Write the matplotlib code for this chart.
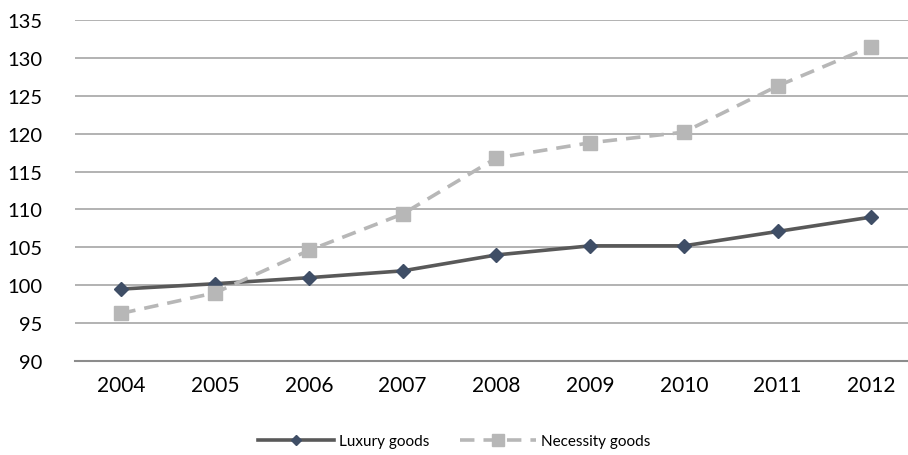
import numpy as np
import matplotlib.pyplot as plt

plt.rcParams['font.family'] = ['Lato', 'DejaVu Sans']

years = ['2004', '2005', '2006', '2007', '2008', '2009', '2010', '2011', '2012']
luxury = [99.5, 100.2, 101.0, 101.9, 104.0, 105.2, 105.2, 107.1, 109.0]
necessity = [96.3, 99.0, 104.6, 109.4, 116.8, 118.8, 120.2, 126.3, 131.5]

fig = plt.figure(figsize=(9.08, 4.56), dpi=100)
ax = fig.add_axes([0.083, 0.206, 0.917, 0.748])

x = np.arange(len(years))
ax.plot(x, luxury, color='#595959', lw=2.6, marker='D', ms=7,
        mfc='#3F4E66', mec='#3F4E66', label='Luxury goods', zorder=3)
ax.plot(x, necessity, color='#B7B7B7', lw=2.6, ls=(0, (4, 2.5)), marker='s', ms=10,
        mfc='#B7B7B7', mec='#B7B7B7', label='Necessity goods', zorder=3)

ax.set_ylim(90, 135)
ax.set_yticks(range(90, 136, 5))
ax.set_xlim(-0.49, 8.39)
ax.set_xticks(x)
ax.set_xticklabels(years)
ax.grid(axis='y', color='#A6A6A6', lw=1.2)
ax.set_axisbelow(True)
for s in ['top', 'right', 'left']:
    ax.spines[s].set_visible(False)
ax.spines['bottom'].set_color('#8C8C8C')
ax.spines['bottom'].set_linewidth(1.5)
ax.tick_params(length=0, labelsize=15, colors='black', pad=10)
ax.tick_params(axis='y', labelsize=14.5, pad=24)

fig.legend(loc='center', bbox_to_anchor=(0.5, 0.03), ncol=2, frameon=False,
           fontsize=11, handlelength=5, columnspacing=2.0, handletextpad=0.3,
           markerscale=0.8)

fig.savefig('out.png', dpi=100)
